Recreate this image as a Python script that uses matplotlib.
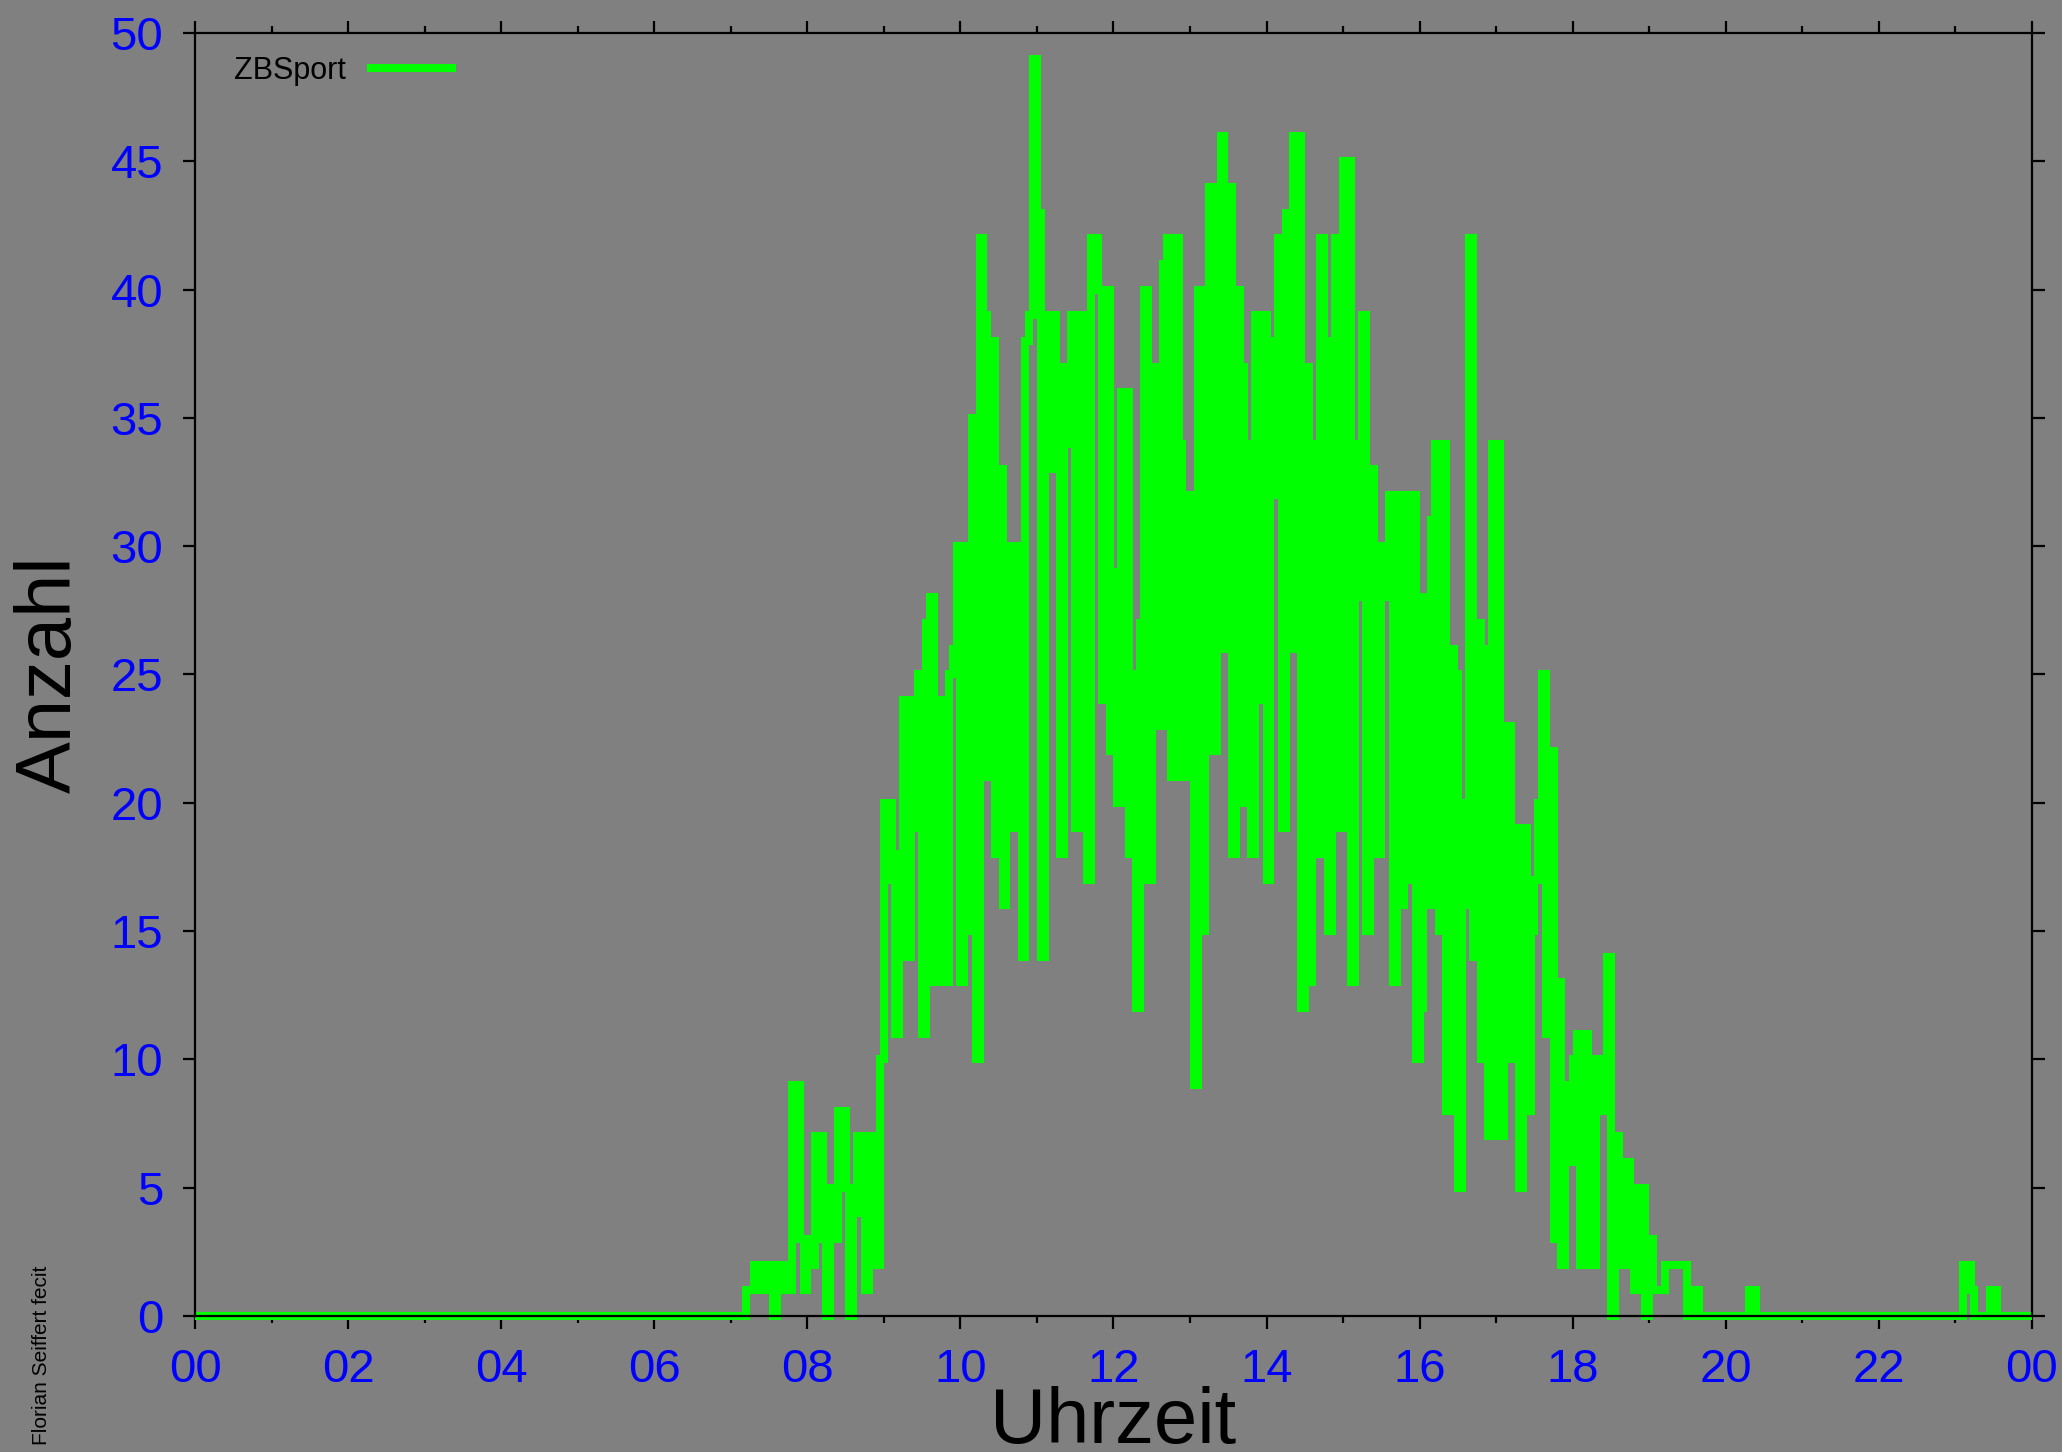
import matplotlib
matplotlib.use("Agg")
import matplotlib.pyplot as plt
import numpy as np

# counts in 3-minute bins, starting 07:00
start_hour = 7.0
bin_hours = 0.05
counts = [
    0, 0, 0, 0, 1, 1, 2, 2, 1, 2, 2, 0, 2, 2, 1, 1, 9, 9, 3, 1,
    3, 2, 7, 7, 3, 0, 5, 3, 8, 8, 5, 0, 4, 7, 7, 1, 7, 7, 2, 10,
    20, 20, 17, 11, 18, 24, 14, 24, 19, 25, 11, 27, 28, 13, 24, 23, 13, 25, 26, 30,
    13, 30, 15, 35, 10, 42, 39, 21, 38, 18, 33, 16, 27, 30, 19, 30, 14, 38, 39, 49,
    43, 14, 39, 33, 39, 37, 18, 34, 37, 39, 19, 39, 37, 17, 42, 42, 40, 24, 40, 22,
    29, 20, 36, 36, 18, 25, 12, 27, 40, 17, 35, 37, 23, 41, 42, 21, 42, 34, 21, 32,
    32, 9, 40, 15, 40, 44, 22, 44, 46, 26, 44, 18, 40, 37, 20, 34, 18, 39, 24, 39,
    17, 32, 38, 42, 19, 43, 26, 46, 46, 12, 37, 13, 34, 18, 42, 38, 15, 36, 42, 19,
    45, 45, 13, 34, 28, 39, 15, 33, 30, 18, 30, 28, 32, 13, 32, 16, 32, 17, 32, 10,
    12, 28, 16, 31, 34, 15, 34, 8, 26, 25, 5, 16, 20, 42, 14, 27, 10, 26, 7, 34,
    34, 7, 17, 23, 10, 19, 5, 19, 8, 15, 17, 20, 25, 11, 22, 3, 13, 2, 9, 6,
    10, 11, 2, 11, 10, 2, 10, 10, 8, 14, 0, 7, 6, 2, 6, 5, 1, 4, 5, 0,
    3, 1, 1, 1, 2, 2, 2, 2, 2, 2, 0, 1, 1, 0,
]
# a few late evening counts
late_hours = [20.30, 20.35, 23.10, 23.15, 23.20, 23.45, 23.50]
late_counts = [1, 1, 2, 2, 1, 1, 1]

hour_ticks = list(range(0, 25, 2))
hour_labels = ["00", "02", "04", "06", "08", "10", "12", "14", "16", "18", "20", "22", "00"]
y_ticks = list(range(0, 51, 5))

# put everything onto one grid for the whole day
grid = np.round(np.arange(0, 24.0001, bin_hours), 2)
values = np.zeros(len(grid))
i0 = int(round(start_hour / bin_hours))
values[i0:i0 + len(counts)] = counts
for h, c in zip(late_hours, late_counts):
    values[int(round(h / bin_hours))] = c

plt.rcParams['font.family'] = ['Liberation Sans', 'DejaVu Sans']

fig = plt.figure(figsize=(20.62, 14.52), dpi=100, facecolor='#808080')
ax = fig.add_axes([0.0946, 0.0937, 0.8908, 0.8836])
ax.set_facecolor('#808080')

ax.plot(grid, values, drawstyle='steps-post', color='#00ff00', lw=5.8,
        solid_joinstyle='miter', solid_capstyle='butt', clip_on=False, label='ZBSport')

ax.set_xlim(0, 24)
ax.set_ylim(0, 50)
ax.set_xticks(hour_ticks)
ax.set_xticklabels(hour_labels)
ax.set_xticks(range(1, 24, 2), minor=True)
ax.set_yticks(y_ticks)

for s in ax.spines.values():
    s.set_linewidth(1.6)
    s.set_color('black')

ax.tick_params(which='both', direction='out', top=True, right=True, width=1.6,
               color='black', labelcolor='blue', labelsize=34, pad=14)
ax.tick_params(which='major', length=9)
ax.tick_params(which='minor', length=5)

ax.set_xlabel('Uhrzeit', fontsize=56, labelpad=-4)
ax.set_ylabel('Anzahl', fontsize=56, labelpad=17)

ax.legend(loc='upper left', bbox_to_anchor=(0.021, 0.982), frameon=False,
          markerfirst=False, fontsize=22, handlelength=2.9, handletextpad=0.7,
          borderpad=0, borderaxespad=0)

fig.text(0.02, 0.005, 'Florian Seiffert fecit', rotation=90, fontsize=15,
         ha='center', va='bottom')

fig.savefig('out.png', dpi=100, facecolor=fig.get_facecolor())
